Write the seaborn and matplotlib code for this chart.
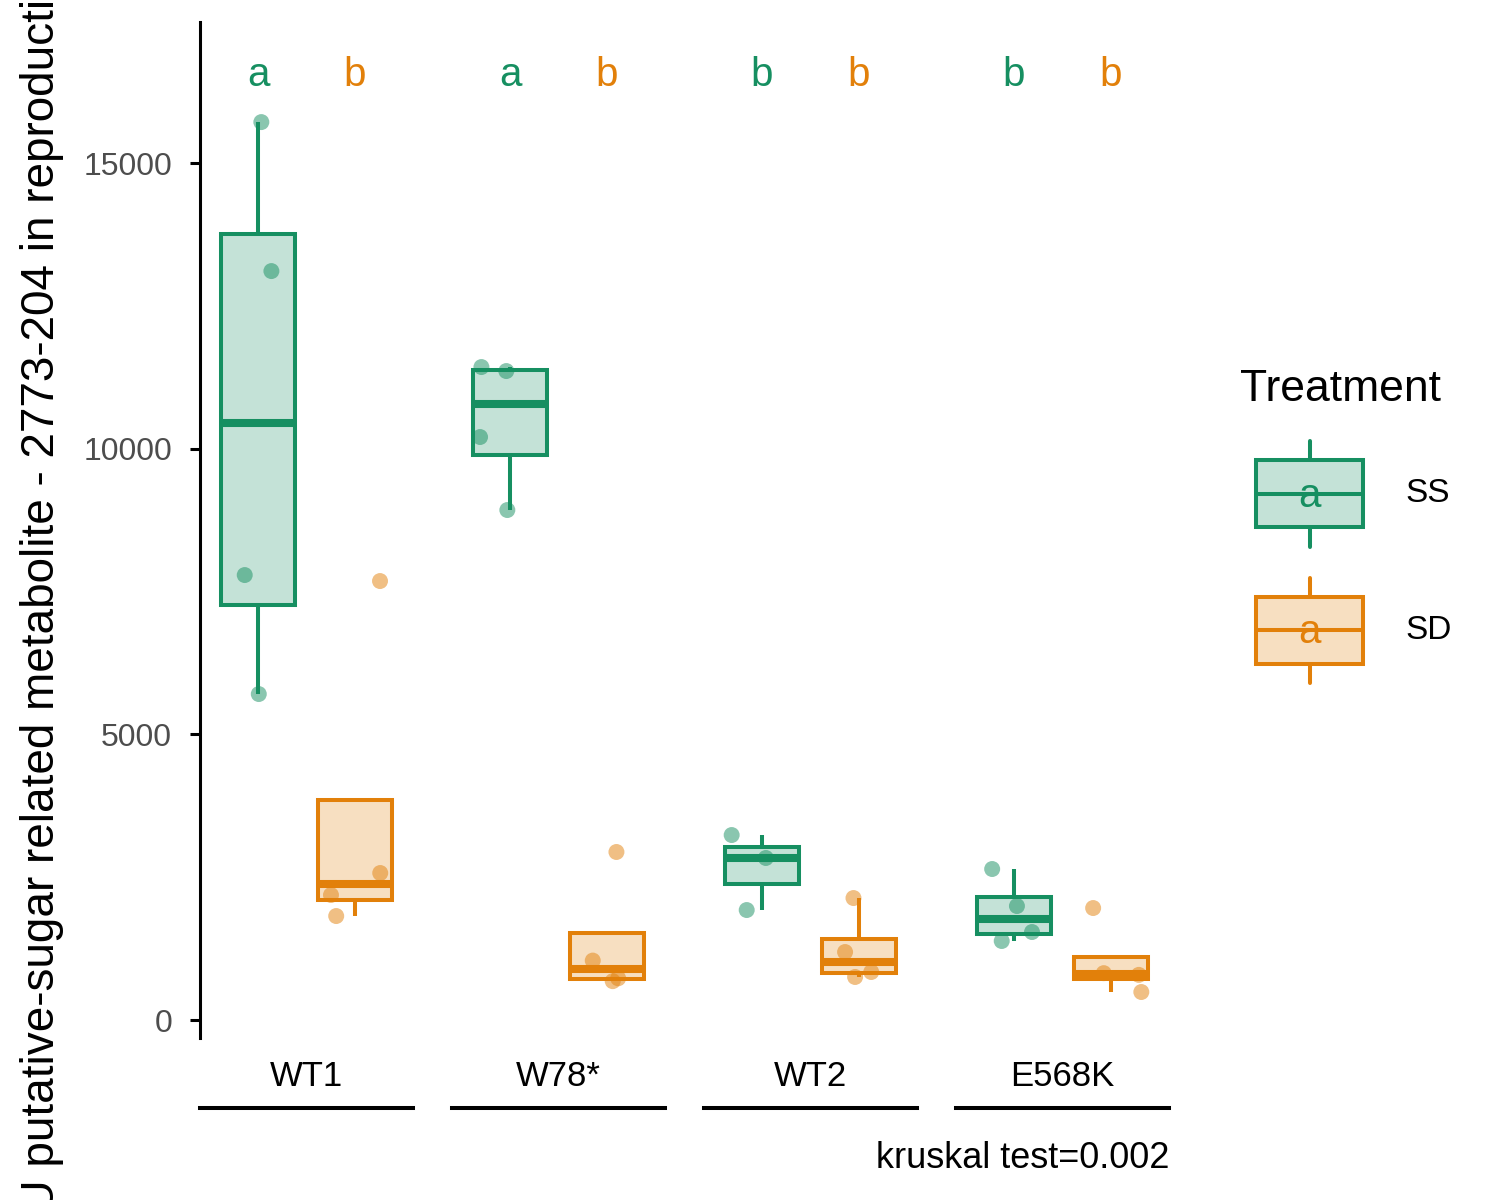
import numpy as np
import pandas as pd
import matplotlib
matplotlib.use("Agg")
import matplotlib.pyplot as plt
import seaborn as sns
from matplotlib.patches import Patch, Rectangle
from matplotlib.lines import Line2D
from matplotlib.legend_handler import HandlerBase
from matplotlib.text import Text

# values
groups = ["WT1", "W78*", "WT2", "E568K"]
treatments = ["SS", "SD"]

wt1_ss = [15718, 13110, 7789, 5706]
wt1_sd = [7684, 2573, 2188, 1820]
w78_ss = [11430, 11360, 10205, 8927]
w78_sd = [2941, 1040, 730, 680]
wt2_ss = [3238, 2836, 1925]
wt2_sd = [2135, 1190, 840, 753]
e568k_ss = [2643, 1995, 1540, 1383]
e568k_sd = [1960, 820, 790, 490]

letters_ss = ["a", "a", "b", "b"]
letters_sd = ["b", "b", "b", "b"]

yticks = [0, 5000, 10000, 15000]
kruskal_p = 0.002

values = {
    ("WT1", "SS"): wt1_ss, ("WT1", "SD"): wt1_sd,
    ("W78*", "SS"): w78_ss, ("W78*", "SD"): w78_sd,
    ("WT2", "SS"): wt2_ss, ("WT2", "SD"): wt2_sd,
    ("E568K", "SS"): e568k_ss, ("E568K", "SD"): e568k_sd,
}
rows = []
for (g, t), vals in values.items():
    for v in vals:
        rows.append({"Genotype": g, "Treatment": t, "Value": v})
df = pd.DataFrame(rows)

green = "#168F61"
orange = "#E2800A"
pal = {"SS": green, "SD": orange}

sns.set_theme(style="white")
plt.rcParams["font.family"] = ["Liberation Sans", "DejaVu Sans"]
plt.rcParams["text.color"] = "black"
plt.rcParams["axes.labelcolor"] = "black"

fig = plt.figure(figsize=(15, 12), dpi=100)
np.random.seed(3)

W, H = 1500, 1200
panel_left = [200, 452, 704, 956]
panel_w = 213
top_px, bot_px = 22, 1038

for i, g in enumerate(groups):
    ax = fig.add_axes([panel_left[i] / W, (H - bot_px) / H, panel_w / W, (bot_px - top_px) / H])
    sub = df[df["Genotype"] == g]
    for t in treatments:
        sns.boxplot(data=sub[sub["Treatment"] == t], x="Treatment", y="Value", order=treatments,
                    color=pal[t], linecolor=pal[t], saturation=1, width=0.76, fill=True,
                    linewidth=2.9, showfliers=False, showcaps=False,
                    medianprops=dict(linewidth=5.8), ax=ax)
    for p in ax.patches:
        ec = p.get_edgecolor()
        p.set_facecolor((ec[0], ec[1], ec[2], 0.25))
    sns.stripplot(data=sub, x="Treatment", y="Value", hue="Treatment", order=treatments,
                  hue_order=treatments, palette=pal, jitter=0.33, size=11.5, alpha=0.5,
                  linewidth=0, legend=False, ax=ax)
    # significance letters
    ax.text(0, 16550, letters_ss[i], color=green, fontsize=29, ha="center", va="center")
    ax.text(1, 16550, letters_sd[i], color=orange, fontsize=29, ha="center", va="center")

    ax.set_xlim(-0.6, 1.6)
    ax.set_ylim(-315, 17470)
    ax.set_xticks([])
    ax.set_xlabel("")
    ax.set_ylabel("")
    for s in ["top", "right", "left"]:
        ax.spines[s].set_visible(False)
    ax.spines["bottom"].set_position(("outward", 50.4))
    ax.spines["bottom"].set_linewidth(2.9)
    ax.spines["bottom"].set_color("black")
    ax.text(0.5, -0.038, g, transform=ax.transAxes, ha="center", va="center", fontsize=25)
    if i == 0:
        ax.spines["left"].set_visible(True)
        ax.spines["left"].set_linewidth(2.2)
        ax.spines["left"].set_color("black")
        ax.set_yticks(yticks)
        ax.set_yticklabels([str(t) for t in yticks])
        ax.tick_params(axis="y", length=7, width=2.2, color="black", labelcolor="#4D4D4D",
                       labelsize=23, pad=13, left=True)
        ax.set_ylabel("AU putative-sugar related metabolite - 2773-204 in reproductive tissue",
                      fontsize=33)
        ax.yaxis.set_label_coords(-0.64, 0.5)
    else:
        ax.set_yticks([])

fig.text(1169 / W, (H - 1158) / H, "kruskal test=%s" % kruskal_p, ha="right", va="center",
         fontsize=26)


class BoxKey(HandlerBase):
    def create_artists(self, legend, orig_handle, xdescent, ydescent, width, height,
                       fontsize, trans):
        col = orig_handle.get_edgecolor()
        x0, y0 = -xdescent, -ydescent
        bx0, bx1 = x0 + 0.115 * width, x0 + 0.885 * width
        by0, by1 = y0 + 0.185 * height, y0 + 0.815 * height
        xm = (bx0 + bx1) / 2
        ym = (by0 + by1) / 2
        box = Rectangle((bx0, by0), bx1 - bx0, by1 - by0, facecolor=(*col[:3], 0.25),
                        edgecolor=col, linewidth=2.9, transform=trans)
        w1 = Line2D([xm, xm], [y0, by0], color=col, linewidth=2.9, transform=trans)
        w2 = Line2D([xm, xm], [by1, y0 + height], color=col, linewidth=2.9, transform=trans)
        med = Line2D([bx0, bx1], [ym, ym], color=col, linewidth=2.9, transform=trans)
        txt = Text(xm, ym - 0.02 * height, "a", color=col, fontsize=29, ha="center",
                   va="center", transform=trans)
        return [box, w1, w2, med, txt]


handles = [Patch(facecolor=pal[t], edgecolor=pal[t], label=t) for t in treatments]
leg = fig.legend(handles=handles, labels=treatments, handler_map={Patch: BoxKey()},
                 loc="center left", bbox_to_anchor=(1240 / W, (H - 526) / H),
                 frameon=False, borderpad=0, borderaxespad=0, fontsize=24,
                 title="Treatment", title_fontsize=32, alignment="left",
                 handlelength=4.17, handleheight=4.5, handletextpad=0.78,
                 labelspacing=0.93)

plt.savefig("out.png", dpi=100)
